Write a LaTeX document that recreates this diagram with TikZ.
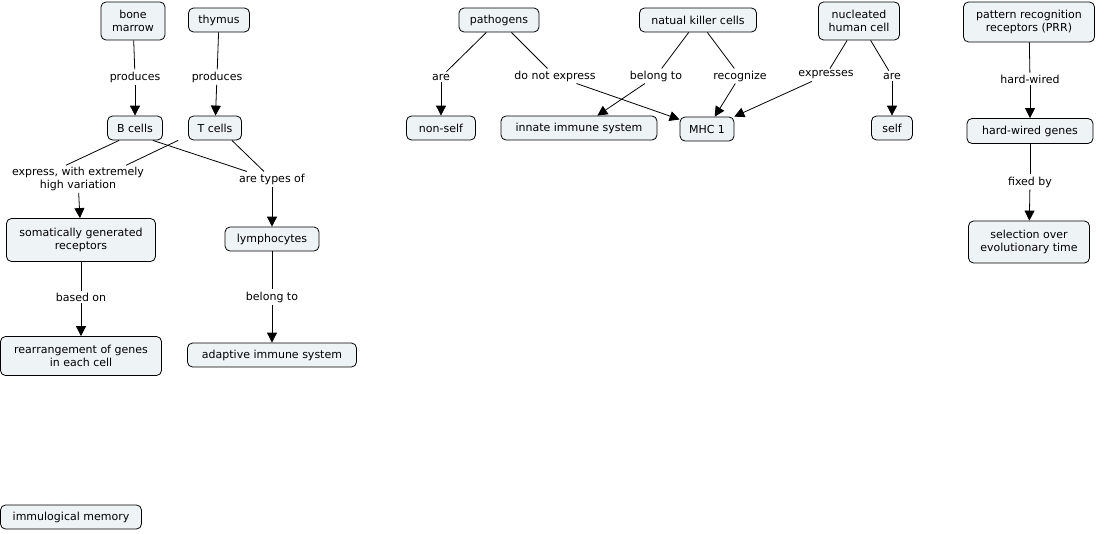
\documentclass[tikz,border=0pt]{standalone}
\usepackage{fontspec}
\setmainfont{DejaVu Sans}
\usetikzlibrary{arrows.meta,calc}
\definecolor{cfill}{HTML}{EEF3F5}
\begin{document}
\begin{tikzpicture}[x=1pt,y=-1pt,
  c/.style={draw=black,fill=cfill,rounded corners=5pt,align=center,font=\fontsize{11}{12.5}\selectfont,inner sep=4pt,line width=0.8pt},
  l/.style={fill=white,align=center,font=\fontsize{11}{12.5}\selectfont,inner sep=2pt},
  ln/.style={line width=0.8pt},
  ar/.style={line width=0.8pt,-{Triangle[length=10pt,width=10pt]}}]
\useasboundingbox (0,0) rectangle (1098,533);
\node[c,minimum width=64pt,minimum height=38pt] (bm) at (133,21) {bone\\marrow};
\node[c,minimum width=61pt,minimum height=24pt] (th) at (219,20) {thymus};
\node[c,minimum width=55pt,minimum height=24pt] (bc) at (135,128) {B cells};
\node[c,minimum width=53pt,minimum height=24pt] (tc) at (215,128) {T cells};
\node[c,minimum width=149pt,minimum height=43pt] (sg) at (81,240) {somatically generated\\receptors};
\node[c,minimum width=94pt,minimum height=24pt] (ly) at (272,239) {lymphocytes};
\node[c,minimum width=161pt,minimum height=39pt] (rg) at (81,356) {rearrangement of genes\\in each cell};
\node[c,minimum width=169pt,minimum height=24pt] (ad) at (272,355) {adaptive immune system};
\node[c,minimum width=141pt,minimum height=24pt] (im) at (71,517) {immulogical memory};
\node[c,minimum width=80pt,minimum height=24pt] (pa) at (499,20) {pathogens};
\node[c,minimum width=117pt,minimum height=24pt] (nk) at (698,20) {natual killer cells};
\node[c,minimum width=81pt,minimum height=38pt] (nh) at (859,21) {nucleated\\human cell};
\node[c,minimum width=69pt,minimum height=24pt] (ns) at (441,128) {non-self};
\node[c,minimum width=156pt,minimum height=24pt] (in) at (579,128) {innate immune system};
\node[c,minimum width=54pt,minimum height=24pt] (mh) at (707,129) {MHC 1};
\node[c,minimum width=41pt,minimum height=24pt] (se) at (892,128) {self};
\node[c,minimum width=131pt,minimum height=40pt] (pr) at (1029,22) {pattern recognition\\receptors (PRR)};
\node[c,minimum width=126pt,minimum height=25pt] (hg) at (1030,131) {hard-wired genes};
\node[c,minimum width=121pt,minimum height=42pt] (so) at (1029,242) {selection over\\evolutionary time};
% labels
\node[l] (l1) at (135,77) {produces};
\node[l] (l2) at (217,77) {produces};
\node[l] (l3) at (78,179) {express, with extremely\\high variation};
\node[l] (l4) at (272,179) {are types of};
\node[l] (l5) at (81,297) {based on};
\node[l] (l6) at (272,297) {belong to};
\node[l] (l7) at (441,77) {are};
\node[l] (l8) at (555,76) {do not express};
\node[l] (l9) at (656,76) {belong to};
\node[l] (l10) at (740,76) {recognize};
\node[l] (l11) at (826,75) {expresses};
\node[l] (l12) at (892,76) {are};
\node[l] (l13) at (1030,79) {hard-wired};
\node[l] (l14) at (1030,182) {fixed by};
% connectors
\draw[ln] (bm) -- (l1); \draw[ar] (l1) -- (bc);
\draw[ln] (th) -- (l2); \draw[ar] (l2) -- (tc);
\draw[ln] ($(bc.south west)+(12,0)$) -- ($(l3.north)+(-12,0)$);
\draw[ln] ($(tc.south west)+(-10,0)$) -- ($(l3.north east)+(-20,0)$);
\draw[ln] ($(bc.south east)+(-10,0)$) -- ($(l4.north west)+(10,0)$);
\draw[ln] ($(tc.south east)+(-10,0)$) -- ($(l4.north)+(-8,0)$);
\draw[ar] (l3) -- (sg);
\draw[ar] (l4) -- (ly);
\draw[ln] (sg) -- (l5); \draw[ar] (l5) -- (rg);
\draw[ln] (ly) -- (l6); \draw[ar] (l6) -- (ad);
\draw[ln] (pa) -- (l7); \draw[ar] (l7) -- (ns);
\draw[ln] (pa) -- (l8); \draw[ar] (l8) -- (mh);
\draw[ln] (nk) -- (l9); \draw[ar] (l9) -- (in);
\draw[ln] (nk) -- (l10); \draw[ar] (l10) -- (mh);
\draw[ln] (nh) -- (l11); \draw[ar] (l11) -- (mh);
\draw[ln] (nh) -- (l12); \draw[ar] (l12) -- (se);
\draw[ln] (pr) -- (l13); \draw[ar] (l13) -- (hg);
\draw[ln] (hg) -- (l14); \draw[ar] (l14) -- (so);
\end{tikzpicture}
\end{document}
